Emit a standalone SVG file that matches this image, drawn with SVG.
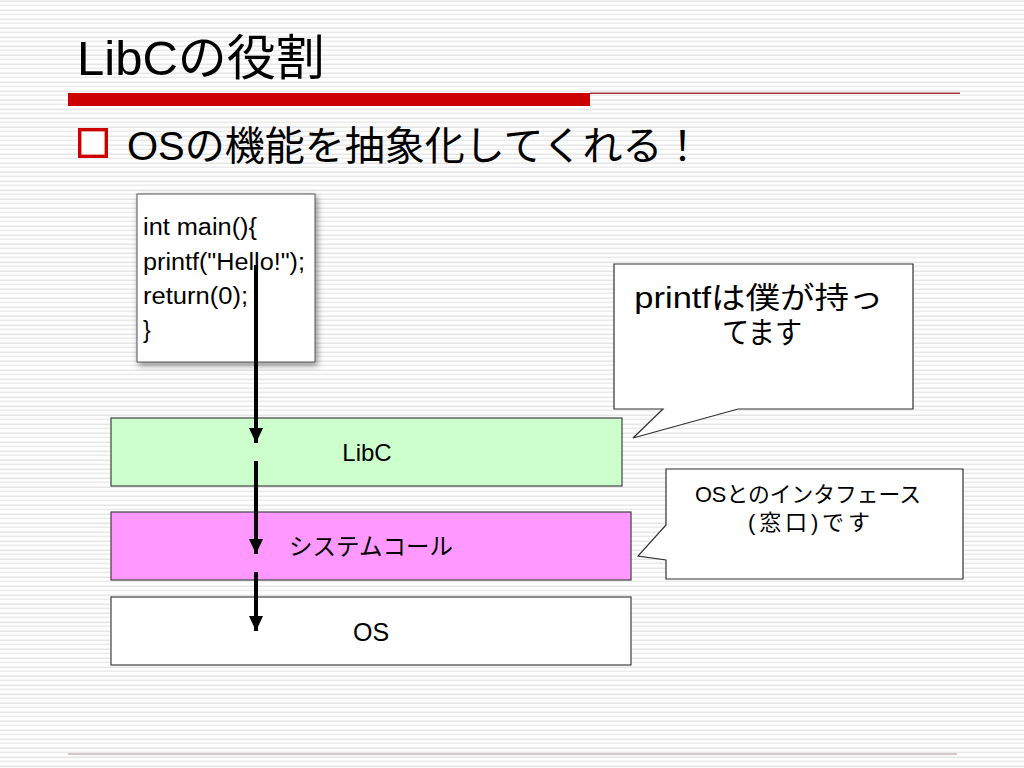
<svg xmlns="http://www.w3.org/2000/svg" width="1024" height="768" viewBox="0 0 1024 768">
<defs>
<pattern id="stripes" x="0" y="0" width="8" height="9" patternUnits="userSpaceOnUse">
<rect x="0" y="0" width="8" height="9" fill="#ffffff"/>
<rect x="0" y="0.5" width="8" height="1.6" fill="#e6e6e6"/>
<rect x="0" y="4.5" width="8" height="1.6" fill="#ebebeb"/>
</pattern>
<marker id="arr" markerWidth="15" markerHeight="14" refX="15" refY="7" orient="auto" markerUnits="userSpaceOnUse" viewBox="0 0 15 14">
<path d="M0,0 L15,7 L0,14 Z" fill="#000"/>
</marker>
<filter id="shadow" x="-10%" y="-10%" width="130%" height="130%">
<feDropShadow dx="2" dy="3" stdDeviation="3" flood-color="#000" flood-opacity="0.45"/>
</filter>
</defs>
<style>
.jp{font-family:"Liberation Sans","Noto Sans CJK JP",sans-serif;fill:#000}
.box{stroke:#404040;stroke-width:1.2}
.call{fill:#fff;stroke:#303030;stroke-width:1.2}
.conn{stroke:#000;stroke-width:4;fill:none}
</style>
<rect x="0" y="0" width="1024" height="768" fill="url(#stripes)"/>

<g id="title">
<text class="jp" x="77" y="75" font-size="49">LibCの役割</text>
<rect x="68" y="93" width="522" height="13" fill="#cc0000"/>
<rect x="590" y="92.6" width="370" height="1.3" fill="#9b1b2a"/>
</g>

<g id="bullet">
<rect x="79.7" y="129.7" width="26.6" height="26.6" fill="#fff" stroke="#cc0000" stroke-width="3.4"/>
<text class="jp" x="127" y="160" font-size="40">OSの機能を抽象化してくれる！</text>
</g>

<g id="code">
<rect x="137" y="194" width="178" height="168" fill="#fff" stroke="#555" stroke-width="1" filter="url(#shadow)"/>
<text class="jp" font-size="23">
<tspan x="143" y="235" textLength="114" lengthAdjust="spacingAndGlyphs">int main(){</tspan>
<tspan x="143" y="270" textLength="162" lengthAdjust="spacingAndGlyphs">printf("Hello!");</tspan>
<tspan x="143" y="304" textLength="105" lengthAdjust="spacingAndGlyphs">return(0);</tspan>
<tspan x="143" y="338">}</tspan>
</text>
</g>

<g id="libc">
<rect class="box" x="111" y="418" width="511" height="68" fill="#ccffcc"/>
<text class="jp" x="367" y="461" font-size="24" text-anchor="middle">LibC</text>
</g>

<g id="syscall">
<rect class="box" x="111" y="512" width="520" height="68" fill="#ff99ff"/>
<text class="jp" x="371" y="555" font-size="23.5" text-anchor="middle">システムコール</text>
</g>

<g id="os">
<rect class="box" x="111" y="597" width="520" height="68" fill="#ffffff"/>
<text class="jp" x="371" y="641" font-size="25" text-anchor="middle">OS</text>
</g>

<g id="callout1">
<path class="call" d="M614,264 H913 V409 H738 L633,438 L663,409 H614 Z"/>
<text class="jp" font-size="30" text-anchor="middle">
<tspan x="763" y="308" textLength="249" lengthAdjust="spacingAndGlyphs">printfは僕が持っ</tspan>
<tspan x="762" y="343" textLength="80" lengthAdjust="spacingAndGlyphs">てます</tspan>
</text>
</g>

<g id="callout2">
<path class="call" d="M666,469 H963 V579 H666 V560 L638,556 L666,525 Z"/>
<text class="jp" font-size="22" text-anchor="middle">
<tspan x="811" y="502" textLength="226" lengthAdjust="spacingAndGlyphs">OSとのインタフェース</tspan>
<tspan x="809" y="530" textLength="122" lengthAdjust="spacing">(窓口)です</tspan>
</text>
</g>

<g id="connectors">
<line class="conn" x1="256" y1="265" x2="256" y2="443" marker-end="url(#arr)"/>
<line class="conn" x1="256" y1="461" x2="256" y2="554" marker-end="url(#arr)"/>
<line class="conn" x1="256" y1="572" x2="256" y2="631" marker-end="url(#arr)"/>
</g>

<g id="footer">
<rect x="68" y="753" width="889" height="2" fill="#d6c6c8"/>
</g>
</svg>
